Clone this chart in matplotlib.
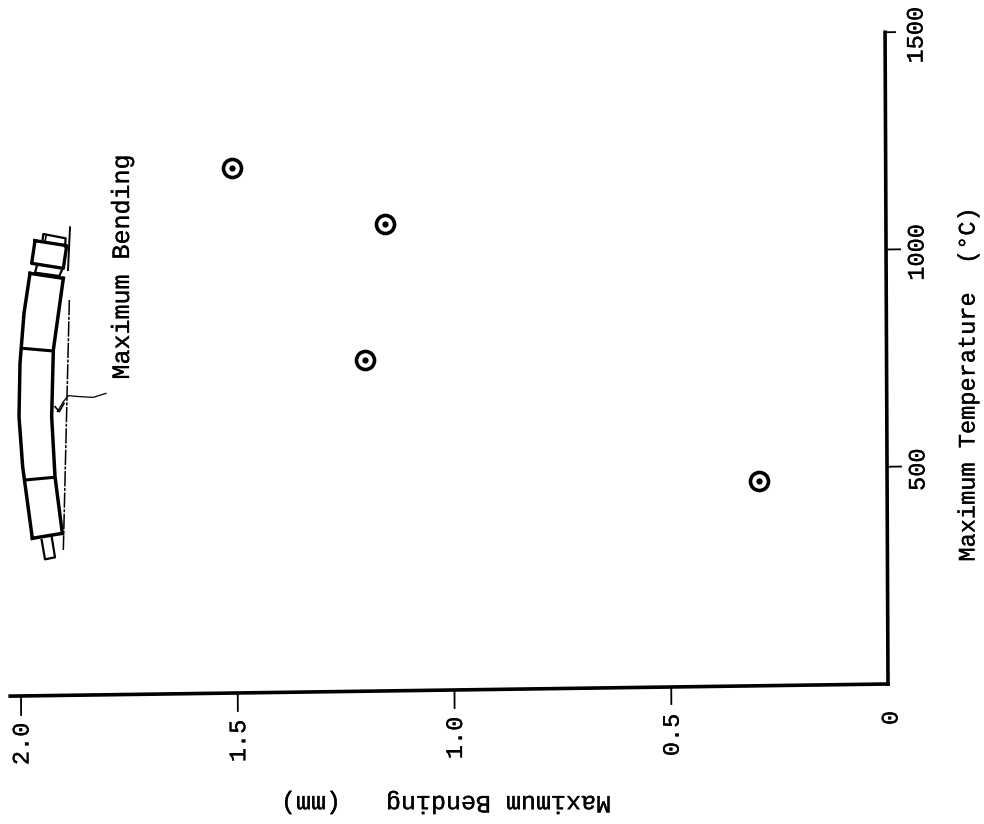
import matplotlib
matplotlib.use("Agg")
import matplotlib.pyplot as plt
import matplotlib.patheffects as pe
from matplotlib.transforms import Affine2D
import numpy as np

# ---- data ----
bending_mm = [1.507, 1.156, 1.203, 0.296]
max_temp_c = [1209, 1074, 762, 471]
temp_ticks = [500, 1000, 1500]
temp_labels = ["500", "1000", "1500"]
bend_ticks = [0.5, 1.0, 1.5, 2.0]
bend_labels = ["0.5", "1.0", "1.5", "2.0"]
temp_title = "Maximum Temperature  (°C)"
bend_title = "Maximum Bending   (mm)"
inset_label = "Maximum Bending"

W, H = 984, 824
plt.rcParams["font.family"] = ["Liberation Mono", "DejaVu Sans Mono"]
fig = plt.figure(figsize=(W / 100, H / 100), dpi=100, facecolor="white")
ax = fig.add_axes([0, 0, 1, 1])
ax.axis("off")
heavy = [pe.withStroke(linewidth=0.2, foreground="black")]

# scales: bending runs right-to-left, temperature upward
PX_B, PX_T = 433.5, 0.4345
X0, Y0 = 888, 684
ax.set_xlim(X0 / PX_B, (X0 - W) / PX_B)
ax.set_ylim((Y0 - H) / PX_T, Y0 / PX_T)

# the scanned sheet is slightly skewed
px, py = X0, H - Y0
skew = Affine2D(np.array([[1, -0.0045, 0], [0.0138, 1, 0], [0, 0, 1]]))
tilt = Affine2D().translate(-px, -py) + skew + Affine2D().translate(px, py)
T = ax.transData + tilt

# axis lines
ax.plot([0, 0], [0, 1500], color="black", lw=2.6, transform=T, solid_capstyle="projecting")
ax.plot([0, 2.025], [0, 0], color="black", lw=2.6, transform=T, solid_capstyle="projecting")

# ticks
for t, ln in zip(temp_ticks, [14, 14, 10]):
    ax.plot([0, -ln / PX_B], [t, t], color="black", lw=1.3, transform=T)
for b, ln in zip(bend_ticks, [17, 18, 18, 19]):
    ax.plot([b, b], [0, -ln / PX_T], color="black", lw=1.3, transform=T)

# tick labels
for t, s in zip(temp_ticks, temp_labels):
    ax.annotate(s, xy=(0, t), xycoords=T, xytext=(31, -3), textcoords="offset pixels",
                rotation=90, ha="center", va="center", fontsize=17, color="black",
                path_effects=heavy)
for b, s in zip(bend_ticks, bend_labels):
    ax.annotate(s, xy=(b, 0), xycoords=T, xytext=(1, -48), textcoords="offset pixels",
                rotation=90, ha="center", va="center", fontsize=17, color="black",
                path_effects=heavy)
ax.annotate("0", xy=(0, 0), xycoords=T, xytext=(3, -34), textcoords="offset pixels",
            rotation=90, ha="center", va="center", fontsize=17, color="black",
            path_effects=heavy)

# axis titles
pix = Affine2D().scale(1, -1).translate(0, H)
ax.text(968, 385, temp_title, transform=pix, rotation=90, ha="center", va="center",
        fontsize=17, path_effects=heavy)
ax.text(446, 803, bend_title, transform=pix, rotation=180, ha="center", va="center",
        fontsize=18, path_effects=heavy)
ax.text(122, 267, inset_label, transform=pix, rotation=90, ha="center", va="center",
        fontsize=18, path_effects=heavy)

# data points: ring with a centre dot
ax.plot(bending_mm, max_temp_c, ls="none", marker="o", ms=13, mfc="white", mec="black",
        mew=2.6, transform=T)
ax.plot(bending_mm, max_temp_c, ls="none", marker="o", ms=4.5, mfc="black", mec="black",
        mew=0, transform=T)


# inset sketch of the bent part (zoom coordinates: 3x crop at (0,150))
def sk(points, lw=2.2, ls="-"):
    arr = np.array(points, float)
    ax.plot(arr[:, 0] / 3, 150 + arr[:, 1] / 3, color="black", lw=lw, ls=ls, transform=pix,
            solid_joinstyle="round")


sk([(90, 370), (72, 490), (60, 640), (57, 800), (68, 950), (97, 1165)], 2.5)
sk([(97, 1165), (187, 1150)], 2.5)
sk([(187, 1150), (165, 980), (155, 800), (160, 600), (190, 385)], 2.5)
sk([(90, 370), (190, 385)], 2.5)
sk([(68, 595), (160, 603)], 2.2)
sk([(75, 990), (162, 982)], 2.2)
sk([(105, 272), (200, 287), (190, 355), (95, 340), (105, 272)], 2.4)
sk([(128, 268), (130, 252), (197, 265), (195, 290)], 1.6)
sk([(138, 258), (135, 275)], 1.2)
sk([(110, 350), (105, 368), (178, 378), (185, 362)], 1.6)
sk([(125, 1170), (135, 1228), (165, 1222), (155, 1160)], 1.6)
sk([(210, 232), (204, 360)], 1.4)
sk([(208, 450), (190, 1200)], 1.1, (0, (10, 1, 2, 1)))
sk([(318, 730), (280, 742), (240, 740), (205, 737), (190, 755), (172, 785)], 0.9)
sk([(165, 770), (178, 785), (192, 760)], 1.2)

fig.savefig("out.png", dpi=100, facecolor="white")
